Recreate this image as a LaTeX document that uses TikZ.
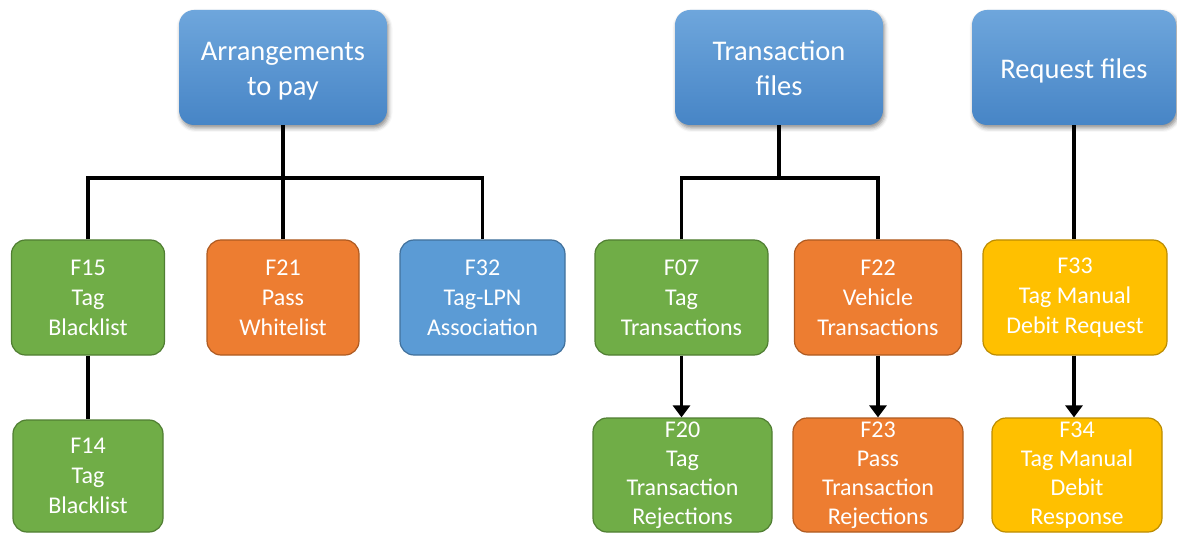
\documentclass[tikz,border=0pt]{standalone}
\usepackage{fontspec}
\setmainfont{Carlito}
\usetikzlibrary{arrows.meta,shadows.blur}

\definecolor{hdtop}{HTML}{6EA6DC}
\definecolor{hdbot}{HTML}{4785C6}
\definecolor{grn}{HTML}{70AD47}
\definecolor{grnline}{HTML}{507E32}
\definecolor{org}{HTML}{ED7D31}
\definecolor{orgline}{HTML}{AE5A21}
\definecolor{blu}{HTML}{5B9BD5}
\definecolor{bluline}{HTML}{41719C}
\definecolor{ylw}{HTML}{FFC000}
\definecolor{ylwline}{HTML}{BC8C00}

% header text sits a little below the box centre
\newcommand\hdtext[1]{\raisebox{-4pt}[\height][\depth]{\begin{tabular}{@{}c@{}}#1\end{tabular}}}

\tikzset{
  header/.style={rounded corners=15pt, top color=hdtop, bottom color=hdbot,
    text=white, inner sep=0pt, minimum width=208pt, minimum height=115pt,
    font=\fontsize{28.5}{35}\selectfont,
    blur shadow={shadow xshift=1.5pt, shadow yshift=-3pt, shadow blur radius=4pt, shadow opacity=45}},
  filebox/.style={rounded corners=14pt, line width=1.2pt, text=white, align=center,
    inner sep=0pt, minimum height=115pt, font=\fontsize{24}{30}\selectfont},
  greenbox/.style={filebox, fill=grn, draw=grnline},
  orangebox/.style={filebox, fill=org, draw=orgline},
  bluebox/.style={filebox, fill=blu, draw=bluline},
  yellowbox/.style={filebox, fill=ylw, draw=ylwline},
  fourline/.style={minimum height=114pt, font=\fontsize{24}{29}\selectfont},
  link/.style={line width=3.5pt, black},
  flow/.style={link, -{Triangle[width=17pt,length=12pt]}}
}

\begin{document}
\begin{tikzpicture}[x=1pt,y=-1pt]
\useasboundingbox (0,0) rectangle (1177,534);

% group headers
\node[header] (arr) at (283,67.5) {\hdtext{Arrangements\\to pay}};
\node[header] (trn) at (779,67.5) {\hdtext{Transaction\\files}};
\node[header, minimum width=204pt] (req) at (1074,67.5) {\hdtext{Request files}};

% second row
\node[greenbox, minimum width=153pt] (f15) at (88,297.5) {F15\\Tag\\Blacklist};
\node[orangebox, minimum width=152pt] (f21) at (283,297.5) {F21\\Pass\\Whitelist};
\node[bluebox, minimum width=165pt] (f32) at (482.5,297.5) {F32\\Tag-LPN\\Association};
\node[greenbox, minimum width=173pt] (f07) at (681.5,297.5) {F07\\Tag\\Transactions};
\node[orangebox, minimum width=167pt] (f22) at (878,297.5) {F22\\Vehicle\\Transactions};
\node[yellowbox, minimum width=184pt] (f33) at (1075,297.5) {F33\\Tag Manual\\Debit Request};

% third row
\node[greenbox, minimum width=150pt, minimum height=112pt] (f14) at (88,476) {F14\\Tag\\Blacklist};
\node[greenbox, fourline, minimum width=179pt] (f20) at (682.5,475) {F20\\Tag\\Transaction\\Rejections};
\node[orangebox, fourline, minimum width=170pt] (f23) at (878,475) {F23\\Pass\\Transaction\\Rejections};
\node[yellowbox, fourline, minimum width=170pt] (f34) at (1077,475) {F34\\Tag Manual\\Debit\\Response};

% connector buses
\coordinate (busA) at (283,178);
\coordinate (busT) at (779,178);

\draw[link] (arr.south) -- (f21.north);
\draw[link] (f15.north) -- (f15.north |- busA) -- (f32.north |- busA) -- (f32.north);
\draw[link] (f15.south) -- (f15.south |- f14.north);

\draw[link] (trn.south) -- (busT);
\draw[link] (f07.north) -- (f07.north |- busT) -- (f22.north |- busT) -- (f22.north);
\draw[flow] (f07.south) -- (f07.south |- f20.north);
\draw[flow] (f22.south) -- (f22.south |- f23.north);

\draw[link] (req.south) -- (req.south |- f33.north);
\draw[flow] (req.south |- f33.south) -- (req.south |- f34.north);
\end{tikzpicture}
\end{document}
